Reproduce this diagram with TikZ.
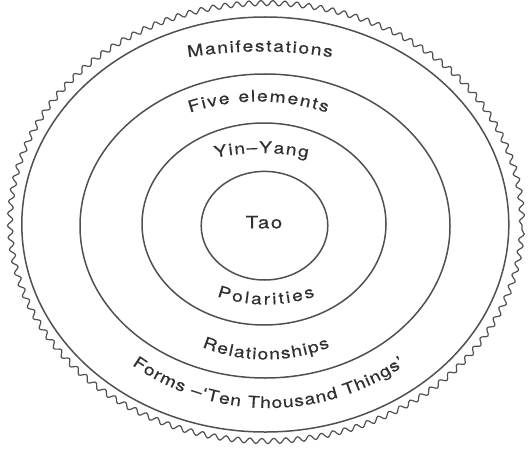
\documentclass[tikz,border=0pt]{standalone}
\usepackage{fontspec}
\usetikzlibrary{decorations.text,decorations.pathmorphing}
\newfontfamily\heros[FakeStretch=1.2,FakeBold=0.5]{TeX Gyre Heros}
\definecolor{inkc}{HTML}{303030}
\definecolor{linec}{HTML}{505050}
\newcommand\lblfont{\heros\fontsize{16pt}{19pt}\selectfont\color{inkc}}
\begin{document}
\begin{tikzpicture}[x=1pt,y=1pt,
  ring/.style={draw=linec, line width=1.5pt},
  wavy/.style={draw=linec, line width=1.2pt, decorate,
    decoration={snake, segment length=12pt, amplitude=2.6pt}},
  arclabel/.style={decorate, decoration={text along path,
    text align=fit to path, text={|\lblfont|#1}}}]
\useasboundingbox (0,0) rectangle (529,448);
% rings
\draw[ring] (264.5,222.3) ellipse[x radius=63.3, y radius=54.3];
\draw[ring] (264,224) ellipse[x radius=122, y radius=101];
\draw[ring] (265,222) ellipse[x radius=185, y radius=152];
\draw[ring] (265.3,223.5) ellipse[x radius=243.5, y radius=207.5];
\draw[wavy] (266,223) ellipse[x radius=256, y radius=219];
% labels
\node[font=\lblfont\addfontfeature{LetterSpace=10}\fontsize{17pt}{20pt}\selectfont, anchor=base] (tao) at (264,219.7) {Tao};
\path[arclabel=Manifestations] (260,-53.5) ++(99.2:450) arc[start angle=99.2, end angle=80.8, radius=450];
\path[arclabel=Five elements] (258.5,130.5) ++(108.5:216) arc[start angle=108.5, end angle=71.5, radius=216];
\path[arclabel=Yin–Yang] (261.5,72) ++(102:223) arc[start angle=102, end angle=78, radius=223];
\path[arclabel=Polarities] (266,293.5) ++(250.9:150) arc[start angle=250.9, end angle=289.1, radius=150];
\path[arclabel=Relationships] (266,258.5) ++(247.9:170) arc[start angle=247.9, end angle=292.1, radius=170];
\path[arclabel=Forms –‘Ten Thousand Things’] (268.5,278) ++(235:238) arc[start angle=235, end angle=305, radius=238];
\end{tikzpicture}
\end{document}
